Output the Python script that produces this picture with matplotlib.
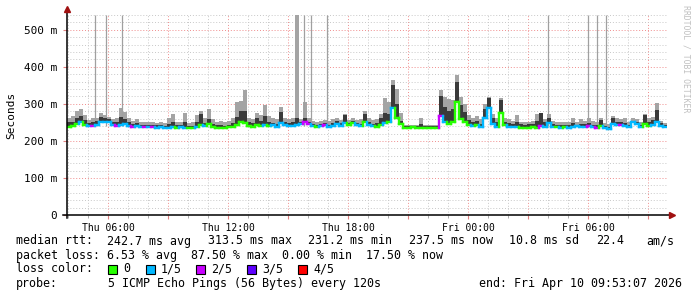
import matplotlib
matplotlib.use("Agg")
import matplotlib.pyplot as plt
import numpy as np
from matplotlib.collections import LineCollection
from matplotlib.lines import Line2D
from matplotlib.patches import Rectangle

W, H = 697, 297
MONO = "DejaVu Sans Mono"

# Hours since Thu 00:00, one bin every 12 minutes (30 h window)
t_start = 3.933
bin_h = 0.2

# Median RTT per bin (ms)
median_rtt = [
    238, 240, 246, 250, 244, 240, 241, 243, 250, 252,
    250, 244, 240, 242, 245, 240, 238, 240, 238, 237,
    237, 238, 236, 237, 236, 236, 237, 236, 237, 236,
    235, 234, 238, 244, 240, 246, 238, 236, 235, 234,
    237, 238, 244, 250, 248, 240, 238, 242, 240, 244,
    240, 242, 238, 248, 242, 240, 241, 244, 246, 250,
    246, 240, 238, 240, 242, 238, 240, 246, 240, 248,
    242, 248, 244, 240, 252, 244, 240, 238, 244, 248,
    252, 290, 262, 246, 236, 236, 237, 236, 236, 236,
    236, 236, 236, 268, 250, 246, 252, 305, 258, 250,
    244, 240, 242, 238, 262, 290, 246, 238, 276, 244,
    238, 237, 238, 236, 236, 236, 237, 236, 240, 238,
    248, 238, 237, 236, 237, 236, 238, 240, 238, 238,
    240, 237, 236, 240, 234, 233, 246, 244, 242, 240,
    238, 250, 246, 238, 245, 240, 242, 252, 240, 237,
]

# Lost pings out of 5 per bin
loss = [
    0, 0, 0, 1, 0, 1, 2, 1, 1, 1,
    1, 1, 2, 1, 1, 1, 2, 1, 1, 2,
    1, 2, 1, 1, 1, 1, 1, 0, 1, 1,
    0, 0, 1, 0, 1, 0, 0, 0, 0, 0,
    0, 0, 0, 0, 0, 0, 0, 0, 0, 1,
    0, 1, 1, 1, 1, 1, 1, 1, 1, 2,
    2, 1, 0, 1, 2, 1, 1, 1, 1, 1,
    0, 0, 1, 1, 0, 1, 1, 0, 0, 1,
    0, 1, 0, 0, 0, 0, 0, 0, 0, 0,
    0, 0, 0, 2, 1, 0, 0, 0, 0, 0,
    0, 1, 0, 1, 1, 1, 1, 1, 0, 0,
    1, 1, 1, 0, 0, 0, 0, 0, 2, 1,
    1, 1, 0, 1, 0, 1, 1, 1, 1, 1,
    2, 1, 2, 0, 1, 1, 1, 1, 2, 1,
    1, 1, 1, 1, 0, 0, 1, 1, 1, 1,
]

# Inner (dark) smoke top per bin (ms)
smoke_dark = [
    250, 252, 262, 268, 256, 248, 250, 254, 265, 262,
    258, 250, 250, 265, 258, 250, 246, 248, 244, 243,
    243, 244, 242, 242, 241, 245, 250, 242, 244, 252,
    240, 240, 252, 272, 248, 260, 246, 242, 244, 240,
    244, 248, 265, 280, 282, 250, 248, 262, 255, 268,
    250, 248, 246, 278, 250, 248, 250, 262, 252, 262,
    252, 246, 244, 246, 248, 244, 248, 254, 248, 270,
    248, 254, 248, 246, 272, 250, 246, 248, 262, 275,
    272, 350, 300, 255, 240, 239, 240, 240, 245, 240,
    239, 240, 240, 322, 292, 280, 285, 358, 298, 278,
    256, 250, 254, 246, 285, 315, 262, 250, 310, 252,
    248, 246, 250, 245, 244, 245, 246, 255, 275, 250,
    262, 246, 244, 242, 244, 242, 248, 244, 246, 246,
    248, 244, 242, 256, 240, 238, 262, 252, 250, 248,
    244, 254, 250, 244, 270, 250, 256, 283, 248, 242,
]

# Outer (light) smoke top per bin (ms)
smoke_light = [
    262, 268, 282, 285, 270, 256, 262, 262, 275, 270,
    265, 258, 262, 290, 278, 262, 255, 260, 252, 250,
    250, 252, 248, 250, 249, 262, 272, 250, 252, 275,
    248, 250, 270, 282, 262, 285, 258, 252, 255, 250,
    255, 262, 305, 308, 338, 262, 258, 275, 270, 296,
    268, 262, 258, 292, 262, 258, 262, 540, 260, 305,
    262, 255, 252, 254, 256, 254, 258, 262, 256, 274,
    256, 262, 256, 258, 280, 262, 256, 260, 272, 315,
    305, 364, 340, 275, 244, 242, 243, 244, 262, 244,
    242, 243, 244, 337, 318, 312, 310, 377, 318, 300,
    270, 262, 266, 258, 300, 318, 272, 262, 316, 262,
    258, 254, 270, 252, 250, 252, 254, 272, 260, 258,
    272, 255, 250, 250, 252, 250, 262, 252, 258, 254,
    262, 254, 252, 262, 248, 246, 268, 262, 258, 262,
    250, 262, 258, 250, 272, 262, 265, 302, 255, 248,
]

# Single slow pings that run off the top (hours since Thu 00:00)
spike_hours = [5.33, 5.88, 6.68, 15.78, 16.13, 16.93, 27.98, 29.98, 30.43, 30.88]
spike_top = 540

tick_hours = [6, 12, 18, 24, 30]
tick_labels = ["Thu 06:00", "Thu 12:00", "Thu 18:00", "Fri 00:00", "Fri 06:00"]
y_ticks = [0, 100, 200, 300, 400, 500]
y_labels = ["0", "100 m", "200 m", "300 m", "400 m", "500 m"]

loss_names = ["0", "1/5", "2/5", "3/5", "4/5"]
loss_colors = ["#26ff00", "#00b8ff", "#c800ff", "#5e00ff", "#ff0000"]


def px(x, y):
    """Pixel (from top-left) to figure fraction."""
    return x / W, 1 - y / H


fig = plt.figure(figsize=(W / 100, H / 100), dpi=100)
fig.patch.set_facecolor("white")
ax = fig.add_axes([67 / W, (H - 215) / H, 600 / W, 200 / H])

n = len(median_rtt)
edges = t_start + bin_h * np.arange(n + 1)
med = np.array(median_rtt, dtype=float)

# Smoke
ax.stairs(smoke_light, edges, baseline=med, fill=True, color="#a4a4a4", lw=0, zorder=2)
ax.vlines(spike_hours, 240, spike_top, color="#a0a0a0", lw=0.9, zorder=2)
ax.stairs(smoke_dark, edges, baseline=med, fill=True, color="#3a3a3a", lw=0, zorder=3)

# Median line coloured by loss
segs, cols = [], []
for i in range(n):
    segs.append([(edges[i], med[i]), (edges[i + 1], med[i])])
    cols.append(loss_colors[loss[i]])
    if i + 1 < n:
        segs.append([(edges[i + 1], med[i]), (edges[i + 1], med[i + 1])])
        cols.append(loss_colors[loss[i + 1]])
ax.add_collection(LineCollection(segs, colors=cols, linewidths=1.7, capstyle="projecting", zorder=4))

ax.set_xlim(t_start, t_start + 30)
ax.set_ylim(0, 540)
for s in ax.spines.values():
    s.set_visible(False)

major_x = np.arange(6, 34, 3)
ax.set_xticks(major_x)
ax.set_xticklabels([tick_labels[tick_hours.index(h)] if h in tick_hours else "" for h in major_x],
                   family=MONO, fontsize=7.05)
ax.set_xticks(np.arange(4, 34, 1), minor=True)
ax.set_yticks(y_ticks)
ax.set_yticklabels(y_labels, family=MONO, fontsize=7.9)
ax.set_yticks(np.arange(0, 541, 20), minor=True)

ax.tick_params(axis="x", which="major", length=3, color="#e08080", pad=3)
ax.tick_params(axis="x", which="minor", length=2, color="#a0a0a0")
ax.tick_params(axis="y", which="major", length=3, color="#e08080", pad=4)
ax.tick_params(axis="y", which="minor", length=0)

ax.set_axisbelow(True)
ax.grid(which="minor", color="#c8c8c8", ls=(0, (1, 2)), lw=0.7)
ax.grid(which="major", color="#f08c8c", ls=(0, (1, 2)), lw=0.7)

ax.text(-0.093, 0.5, "Seconds", transform=ax.transAxes, rotation=90,
        ha="center", va="center", family=MONO, fontsize=8)

# Axis lines with arrow heads
fig.add_artist(Line2D([63 / W, 670 / W], [px(0, 215)[1]] * 2, color="black", lw=1.1))
fig.add_artist(Line2D([67 / W] * 2, [px(0, 218)[1], px(0, 11)[1]], color="black", lw=1.1))
fig.add_artist(Line2D([px(67, 9)[0]], [px(67, 9)[1]], marker="^", ms=4, color="#a01010", lw=0))
fig.add_artist(Line2D([px(672, 215)[0]], [px(672, 215)[1]], marker=">", ms=4, color="#a01010", lw=0))

fig.text(*px(686, 5), "RRDTOOL / TOBI OETIKER", rotation=270, ha="center", va="top",
         family=MONO, fontsize=5.9, color="#c0c0c0")

# Legend
fs = 8.37
row1 = [(16, "median rtt:"), (107, "242.7 ms avg"), (208, "313.5 ms max"), (308, "231.2 ms min"),
        (409, "237.5 ms now"), (509, "10.8 ms sd"), (596, "22.4"), (646, "am/s")]
for x, s in row1:
    fig.text(*px(x, 241), s, ha="left", va="center", family=MONO, fontsize=fs)

fig.text(*px(16, 255), "packet loss: 6.53 % avg  87.50 % max  0.00 % min  17.50 % now",
         ha="left", va="center", family=MONO, fontsize=fs)

fig.text(*px(16, 269), "loss color:", ha="left", va="center", family=MONO, fontsize=fs)
box_x = [108, 146, 196, 247, 298]
for bx, name, c in zip(box_x, loss_names, loss_colors):
    fig.add_artist(Rectangle(px(bx, 273.5), 9 / W, 9 / H, facecolor=c, edgecolor="black", lw=0.8))
    fig.text(*px(bx + 15, 269), name, ha="left", va="center", family=MONO, fontsize=fs)

fig.text(*px(16, 283), "probe:", ha="left", va="center", family=MONO, fontsize=fs)
fig.text(*px(108, 283), "5 ICMP Echo Pings (56 Bytes) every 120s", ha="left", va="center",
         family=MONO, fontsize=fs)
fig.text(*px(682, 283), "end: Fri Apr 10 09:53:07 2026", ha="right", va="center",
         family=MONO, fontsize=fs)

fig.savefig("out.png", dpi=100, facecolor="white")
